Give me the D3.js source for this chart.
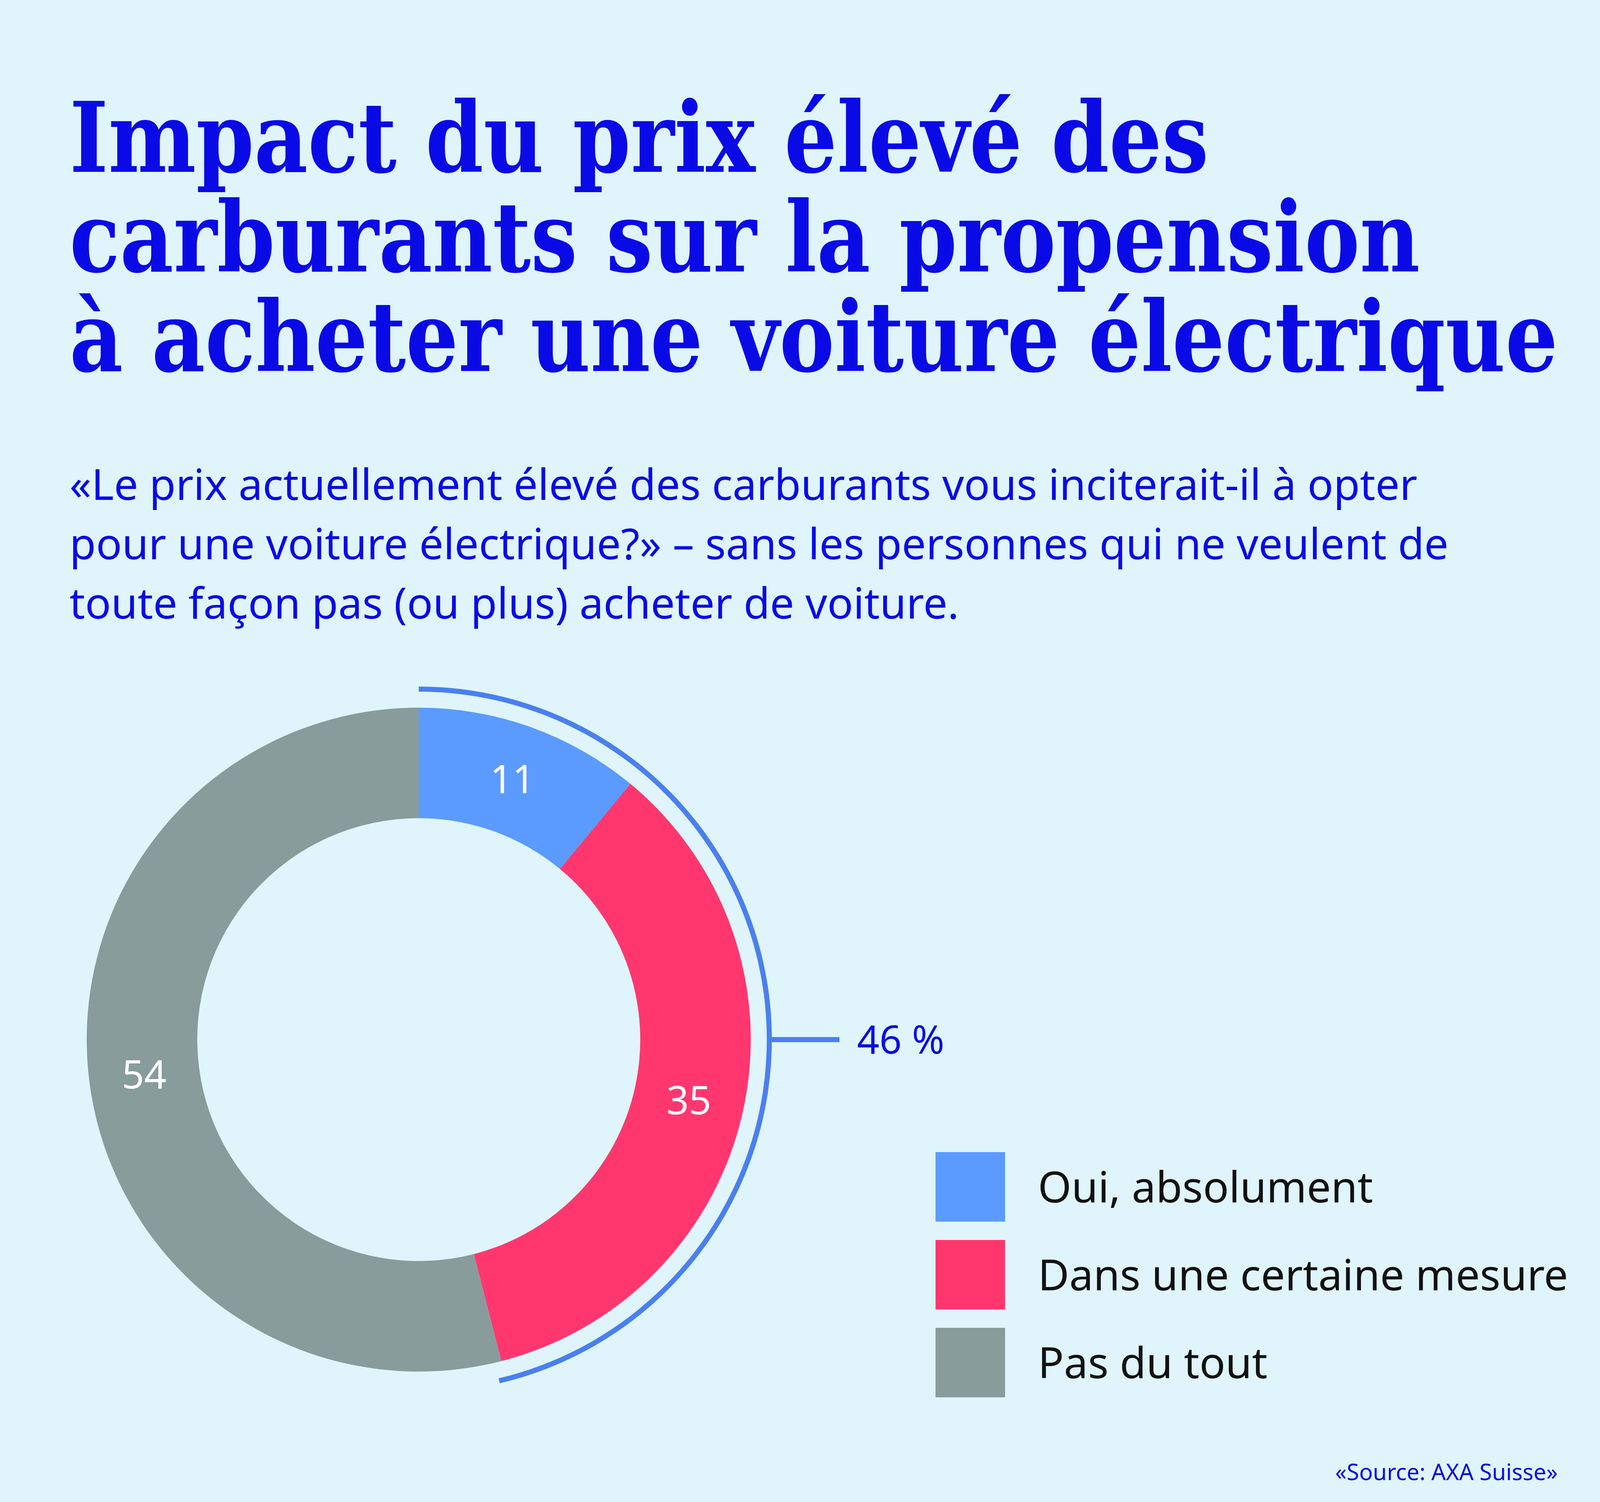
<!DOCTYPE html>
<html><head><meta charset="utf-8">
<script src="https://cdn.jsdelivr.net/npm/d3@7"></script>
<style>body{margin:0;background:#dff5fb}</style>
</head><body>
<script>
const categories = ["Oui, absolument", "Dans une certaine mesure", "Pas du tout"];
const values = [11, 35, 54];
const colors = ["#5b9bff", "#ff376e", "#889c9c"];
const highlightLabel = "46 %";
const titleLines = ["Impact du prix élevé des", "carburants sur la propension", "à acheter une voiture électrique"];
const subtitleLines = ["«Le prix actuellement élevé des carburants vous inciterait-il à opter",
  "pour une voiture électrique?» – sans les personnes qui ne veulent de",
  "toute façon pas (ou plus) acheter de voiture."];
const source = "«Source: AXA Suisse»";

const W = 4101, H = 3846, blue = "#0a0ae6";
const titleWidths = [2916, 3457, 3810];
const svg = d3.select("body").append("svg").attr("width", W).attr("height", H);
svg.append("rect").attr("width", W).attr("height", H).attr("fill", "#dff5fb");

svg.append("g").selectAll("text").data(titleLines).join("text")
  .attr("x", 178).attr("y", (d, i) => 440 + i * 255)
  .attr("font-family", "DejaVu Serif").attr("font-weight", "bold")
  .attr("font-size", 250).attr("fill", blue)
  .attr("textLength", (d, i) => titleWidths[i]).attr("lengthAdjust", "spacingAndGlyphs")
  .text(d => d);

svg.append("g").selectAll("text").data(subtitleLines).join("text")
  .attr("x", 178).attr("y", (d, i) => 1280 + i * 152)
  .attr("font-family", "Noto Sans").attr("font-size", 110).attr("fill", blue).text(d => d);

const cx = 1072, cy = 2662, rO = 850, rI = 567;
const g = svg.append("g").attr("transform", `translate(${cx},${cy})`);
const pie = d3.pie().sort(null).value(d => d)(values);
const arc = d3.arc().innerRadius(rI).outerRadius(rO);
g.selectAll("path.s").data(pie).join("path").attr("class", "s")
  .attr("d", arc).attr("fill", (d, i) => colors[i]);
g.selectAll("text.v").data(pie).join("text").attr("class", "v")
  .attr("transform", d => `translate(${arc.centroid(d)})`)
  .attr("text-anchor", "middle").attr("dy", "0.36em")
  .attr("font-family", "Noto Sans").attr("font-size", 100).attr("fill", "#fff")
  .text(d => d.data);

const end = pie[1].endAngle;
const hl = d3.arc().innerRadius(891).outerRadius(904).startAngle(0).endAngle(end + 0.02);
g.append("path").attr("d", hl()).attr("fill", "#4a7ff0");
const lx = 897, ly = 0;
g.append("line").attr("x1", lx - 6).attr("y1", ly).attr("x2", lx + 180).attr("y2", ly)
  .attr("stroke", "#4a7ff0").attr("stroke-width", 13);
g.append("text").attr("x", lx + 225).attr("y", ly).attr("dy", "0.36em")
  .attr("font-family", "Noto Sans").attr("font-size", 100).attr("fill", blue).text(highlightLabel);

const leg = svg.append("g").selectAll("g").data(categories).join("g")
  .attr("transform", (d, i) => `translate(2395,${2950 + i * 225})`);
leg.append("rect").attr("width", 178).attr("height", 178).attr("fill", (d, i) => colors[i]);
leg.append("text").attr("x", 262).attr("y", 89).attr("dy", "0.36em")
  .attr("font-family", "Noto Sans").attr("font-size", 110).attr("fill", "#111").text(d => d);

svg.append("text").attr("x", 3988).attr("y", 3790).attr("text-anchor", "end")
  .attr("font-family", "Noto Sans").attr("font-size", 58).attr("fill", blue).text(source);
</script>
</body></html>
